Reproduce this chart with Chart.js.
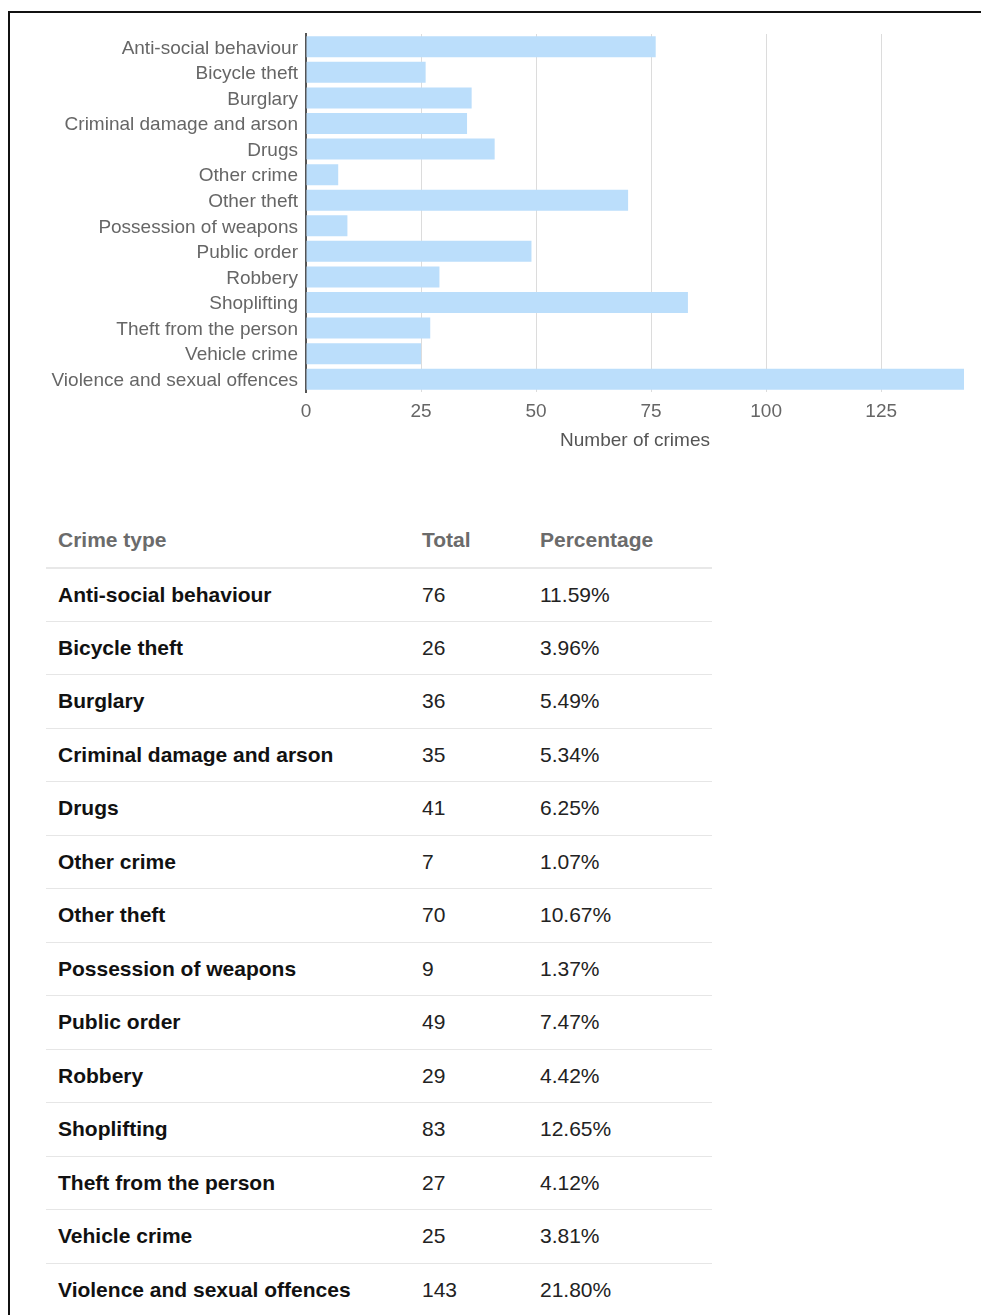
<!DOCTYPE html>
<html>
<head>
<meta charset="utf-8">
<script src="https://cdn.jsdelivr.net/npm/chart.js@4/dist/chart.umd.min.js"></script>
<style>
  html, body { margin: 0; padding: 0; background: #fff; overflow: hidden; }
  body { width: 981px; height: 1315px; position: relative; font-family: Arial, "Liberation Sans", sans-serif; }
  #frame { position: absolute; left: 8px; top: 11px; width: 1000px; height: 1400px; border: 2px solid #111; box-sizing: border-box; }
  #chartBox { position: absolute; left: 0; top: 0; width: 981px; height: 454px; }
  #crimeTable { position: absolute; left: 46px; top: 514px; width: 666px; border-collapse: collapse; font-size: 21px; }
  #crimeTable th, #crimeTable td { height: 53.5px; padding: 0 0 0 12px; text-align: left; box-sizing: border-box; }
  #crimeTable th { color: #6b6b6b; font-weight: bold; border-bottom: 2px solid #e8e8e8; }
  #crimeTable td { color: #222; border-bottom: 1px solid #e6e6e6; }
  #crimeTable td.name { font-weight: bold; color: #111; }
  #crimeTable tr:last-child td { border-bottom: none; }
</style>
</head>
<body>
<div id="frame"></div>
<div id="chartBox"><canvas id="crimeChart"></canvas></div>
<table id="crimeTable">
  <thead>
    <tr><th style="width:364px">Crime type</th><th style="width:118px">Total</th><th>Percentage</th></tr>
  </thead>
  <tbody id="tableBody"></tbody>
</table>
<script>
// data
const crimeTypes = [
  "Anti-social behaviour", "Bicycle theft", "Burglary", "Criminal damage and arson",
  "Drugs", "Other crime", "Other theft", "Possession of weapons", "Public order",
  "Robbery", "Shoplifting", "Theft from the person", "Vehicle crime",
  "Violence and sexual offences"
];
const crimeTotals = [76, 26, 36, 35, 41, 7, 70, 9, 49, 29, 83, 27, 25, 143];
const crimePercents = ["11.59%", "3.96%", "5.49%", "5.34%", "6.25%", "1.07%", "10.67%",
  "1.37%", "7.47%", "4.42%", "12.65%", "4.12%", "3.81%", "21.80%"];
const xTicks = [0, 25, 50, 75, 100, 125];

// table
const tbody = document.getElementById('tableBody');
crimeTypes.forEach((name, i) => {
  tbody.innerHTML += `<tr><td class="name">${name}</td><td>${crimeTotals[i]}</td><td>${crimePercents[i]}</td></tr>`;
});

// chart
const labelFont = { family: 'Arial, "Liberation Sans", sans-serif', size: 19 };
const ctx = document.getElementById('crimeChart').getContext('2d');
new Chart(ctx, {
  type: 'bar',
  data: {
    labels: crimeTypes,
    datasets: [{
      label: 'Number of crimes',
      data: crimeTotals,
      backgroundColor: '#bbdefb',
      barPercentage: 0.82,
      categoryPercentage: 1
    }]
  },
  options: {
    indexAxis: 'y',
    responsive: true,
    maintainAspectRatio: false,
    animation: false,
    layout: { padding: { top: 34, right: 17, left: 0, bottom: 0 } },
    plugins: { legend: { display: false }, tooltip: { enabled: false } },
    scales: {
      x: {
        min: 0,
        max: Math.max(...crimeTotals),
        afterBuildTicks: (axis) => { axis.ticks = xTicks.map(v => ({ value: v })); },
        ticks: { color: '#666', font: labelFont, padding: 8, maxRotation: 0 },
        grid: { color: '#dcdcdc', drawTicks: false },
        border: { display: false },
        title: { display: true, text: 'Number of crimes', color: '#555', font: labelFont, padding: { top: 0, bottom: 2 } },
        afterFit: (axis) => { axis.height = 62; }
      },
      y: {
        ticks: { color: '#666', font: labelFont, padding: 8, autoSkip: false, labelOffset: 1.5 },
        grid: { display: false, drawTicks: false },
        border: { color: '#555', width: 2 },
        afterFit: (axis) => { axis.width = 306; }
      }
    }
  }
});
</script>
</body>
</html>
